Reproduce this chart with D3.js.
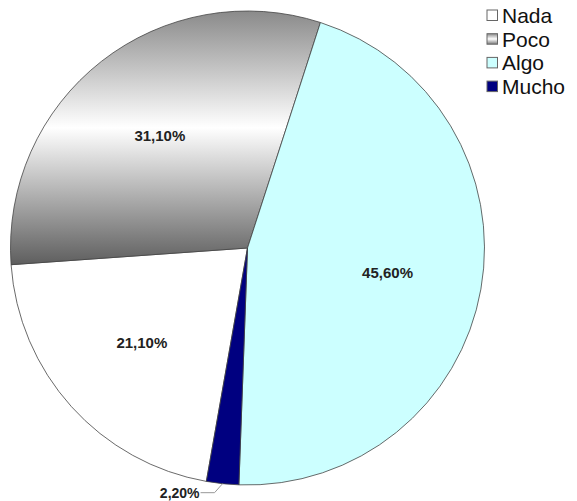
<!DOCTYPE html>
<html>
<head>
<meta charset="utf-8">
<script src="https://cdn.jsdelivr.net/npm/d3@7"></script>
<style>
  body { margin: 0; background: #fff; }
  svg { display: block; font-family: Arial, "Liberation Sans", sans-serif; }
</style>
</head>
<body>
<div id="chart"></div>
<script>
// datos (orden de la leyenda)
const categorias = ["Nada", "Poco", "Algo", "Mucho"];
const valores = [21.1, 31.1, 45.6, 2.2];
const etiquetas = ["21,10%", "31,10%", "45,60%", "2,20%"];
const colores = ["#ffffff", "url(#gradPoco)", "#ccffff", "#000080"];

const width = 577, height = 501;
const cx = 247.5, cy = 248, radio = 237;

const svg = d3.select("#chart").append("svg")
    .attr("width", width)
    .attr("height", height);

// degradado del sector "Poco"
const defs = svg.append("defs");
const grad = defs.append("linearGradient")
    .attr("id", "gradPoco")
    .attr("x1", 0).attr("y1", 0).attr("x2", 0).attr("y2", 1);
grad.append("stop").attr("offset", "0%").attr("stop-color", "#8a8a8a");
grad.append("stop").attr("offset", "46%").attr("stop-color", "#ffffff");
grad.append("stop").attr("offset", "100%").attr("stop-color", "#5e5e5e");

const gradLeyenda = defs.append("linearGradient")
    .attr("id", "gradLeyenda")
    .attr("x1", 0).attr("y1", 0).attr("x2", 0).attr("y2", 1);
gradLeyenda.append("stop").attr("offset", "0%").attr("stop-color", "#8c8c8c");
gradLeyenda.append("stop").attr("offset", "50%").attr("stop-color", "#ffffff");
gradLeyenda.append("stop").attr("offset", "100%").attr("stop-color", "#7a7a7a");

const inicio = 190 * Math.PI / 180;
const pie = d3.pie().sort(null).startAngle(inicio).endAngle(inicio + 2 * Math.PI);
const arcos = pie(valores);

const arc = d3.arc().innerRadius(0).outerRadius(radio);
const arcLabel = d3.arc().innerRadius(radio * 0.6).outerRadius(radio * 0.6);
const arcBorde = d3.arc().innerRadius(radio).outerRadius(radio);

const g = svg.append("g").attr("transform", "translate(" + cx + "," + cy + ")");

g.selectAll("path.sector")
    .data(arcos)
    .enter()
    .append("path")
    .attr("class", "sector")
    .attr("d", arc)
    .attr("fill", (d, i) => colores[i])
    .attr("stroke", "#444")
    .attr("stroke-width", 0.8);

// etiquetas dentro de los sectores grandes
g.selectAll("text.pct")
    .data(arcos.filter(d => d.value > 5))
    .enter()
    .append("text")
    .attr("class", "pct")
    .attr("transform", d => "translate(" + arcLabel.centroid(d) + ")")
    .attr("text-anchor", "middle")
    .attr("dy", "0.35em")
    .style("font-size", "15px")
    .style("font-weight", "bold")
    .style("fill", "#222")
    .text(d => etiquetas[d.index]);

// etiqueta exterior con linea guia (Mucho)
arcos.filter(d => d.value <= 5).forEach(d => {
    const p0 = arcBorde.centroid(d);
    const p1 = [p0[0] - 8, p0[1] + 9];
    const p2 = [p1[0] - 14, p1[1]];
    g.append("polyline")
        .attr("points", [p0, p1, p2].map(p => p.join(",")).join(" "))
        .attr("fill", "none")
        .attr("stroke", "#999")
        .attr("stroke-width", 1);
    g.append("text")
        .attr("x", p2[0] - 1)
        .attr("y", p2[1])
        .attr("dy", "0.35em")
        .attr("text-anchor", "end")
        .style("font-size", "14px")
        .style("font-weight", "bold")
        .style("fill", "#222")
        .text(etiquetas[d.index]);
});

// leyenda
const leyenda = svg.append("g").attr("transform", "translate(487,10)");
const filas = leyenda.selectAll("g")
    .data(categorias)
    .enter()
    .append("g")
    .attr("transform", (d, i) => "translate(0," + (i * 23.7) + ")");
filas.append("rect")
    .attr("width", 10.5)
    .attr("height", 10.5)
    .attr("fill", (d, i) => i === 1 ? "url(#gradLeyenda)" : colores[i])
    .attr("stroke", "#666")
    .attr("stroke-width", 1);
filas.append("text")
    .attr("x", 15)
    .attr("y", 5.5)
    .attr("dy", "0.36em")
    .style("font-size", "21px")
    .style("fill", "#111")
    .text(d => d);
</script>
</body>
</html>
